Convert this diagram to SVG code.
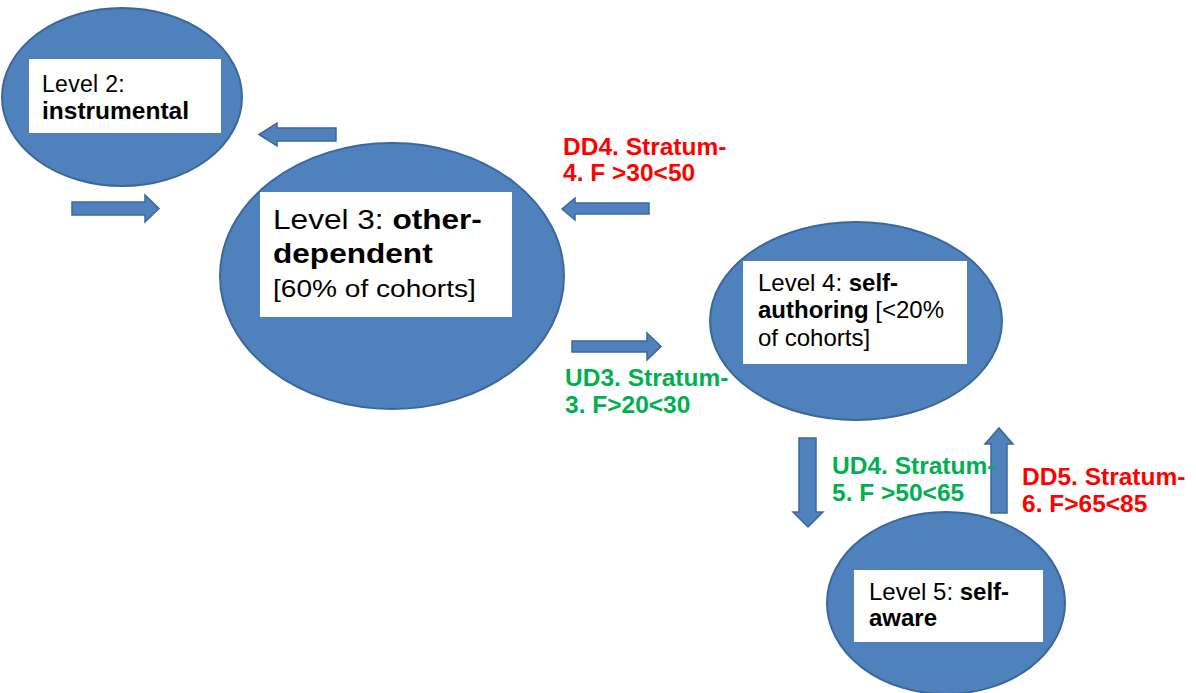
<svg xmlns="http://www.w3.org/2000/svg" width="1196" height="693" viewBox="0 0 1196 693">
  <style>
    .blob { fill: #4F81BD; stroke: #3C679A; stroke-width: 2; }
    .card { fill: #FFFFFF; }
    .arrow { fill: #4F81BD; stroke: #3C679A; stroke-width: 1.5; stroke-linejoin: miter; }
    .lbl { font-family: "Liberation Sans", Arial, sans-serif; fill: #000000; }
    .b { font-weight: bold; }
    .red { font-family: "Liberation Sans", Arial, sans-serif; font-weight: bold; font-size: 24.5px; fill: #FF0000; }
    .green { font-family: "Liberation Sans", Arial, sans-serif; font-weight: bold; font-size: 24.5px; fill: #00B050; }
  </style>
  <rect x="0" y="0" width="1196" height="693" fill="#FFFFFF"/>

  <!-- Level 2 -->
  <g id="level2">
    <ellipse class="blob" cx="122" cy="97" rx="120" ry="89"/>
    <rect class="card" x="29" y="59" width="192" height="74"/>
    <text class="lbl" x="42" y="92" font-size="23" letter-spacing="0.3">Level 2:</text>
    <text class="lbl b" x="42" y="119" font-size="24.5">instrumental</text>
  </g>

  <!-- Level 3 -->
  <g id="level3">
    <ellipse class="blob" cx="392" cy="276" rx="172" ry="133"/>
    <rect class="card" x="260" y="192" width="252" height="125"/>
    <g transform="translate(273,0) scale(1.17,1)">
      <text class="lbl" x="0" y="229" font-size="27">Level 3: <tspan class="b">other-</tspan></text>
      <text class="lbl b" x="0" y="263" font-size="27">dependent</text>
      <text class="lbl" x="0" y="297" font-size="24">[60% of cohorts]</text>
    </g>
  </g>

  <!-- Level 4 -->
  <g id="level4">
    <ellipse class="blob" cx="856" cy="321" rx="146" ry="99"/>
    <rect class="card" x="743" y="261" width="224" height="103"/>
    <text class="lbl" x="758" y="291" font-size="24">Level 4: <tspan class="b">self-</tspan></text>
    <text class="lbl" x="758" y="318" font-size="24"><tspan class="b">authoring</tspan> [&lt;20%</text>
    <text class="lbl" x="758" y="346" font-size="24">of cohorts]</text>
  </g>

  <!-- Level 5 -->
  <g id="level5">
    <ellipse class="blob" cx="946" cy="603" rx="119" ry="91"/>
    <rect class="card" x="854" y="570" width="189" height="72"/>
    <text class="lbl" x="869" y="600" font-size="24">Level 5: <tspan class="b">self-</tspan></text>
    <text class="lbl b" x="869" y="626" font-size="24">aware</text>
  </g>

  <!-- transition arrows -->
  <g id="connectors">
    <polygon class="arrow" points="336,128 277,128 277,123 259,134.5 277,146 277,141 336,141"/>
    <polygon class="arrow" points="72,202 145,202 145,195 159,208.5 145,222 145,215 72,215"/>
    <polygon class="arrow" points="649,203 575,203 575,198 562,209 575,220 575,214 649,214"/>
    <polygon class="arrow" points="572,341 647,341 647,333 661,346.5 647,360 647,352 572,352"/>
    <polygon class="arrow" points="799,438 816,438 816,512 823,512 808,527 793,512 799,512"/>
    <polygon class="arrow" points="991,513 991,444 985,444 999,428 1013,444 1007,444 1007,513"/>
  </g>

  <!-- stratum labels -->
  <g id="labels">
    <text class="red" x="563" y="155">DD4. Stratum-</text>
    <text class="red" x="563" y="181">4. F &gt;30&lt;50</text>
    <text class="green" x="565" y="386">UD3. Stratum-</text>
    <text class="green" x="565" y="413">3. F&gt;20&lt;30</text>
    <text class="green" x="832" y="474">UD4. Stratum-</text>
    <text class="green" x="832" y="501">5. F &gt;50&lt;65</text>
    <text class="red" x="1022" y="485">DD5. Stratum-</text>
    <text class="red" x="1022" y="512">6. F&gt;65&lt;85</text>
  </g>
</svg>
